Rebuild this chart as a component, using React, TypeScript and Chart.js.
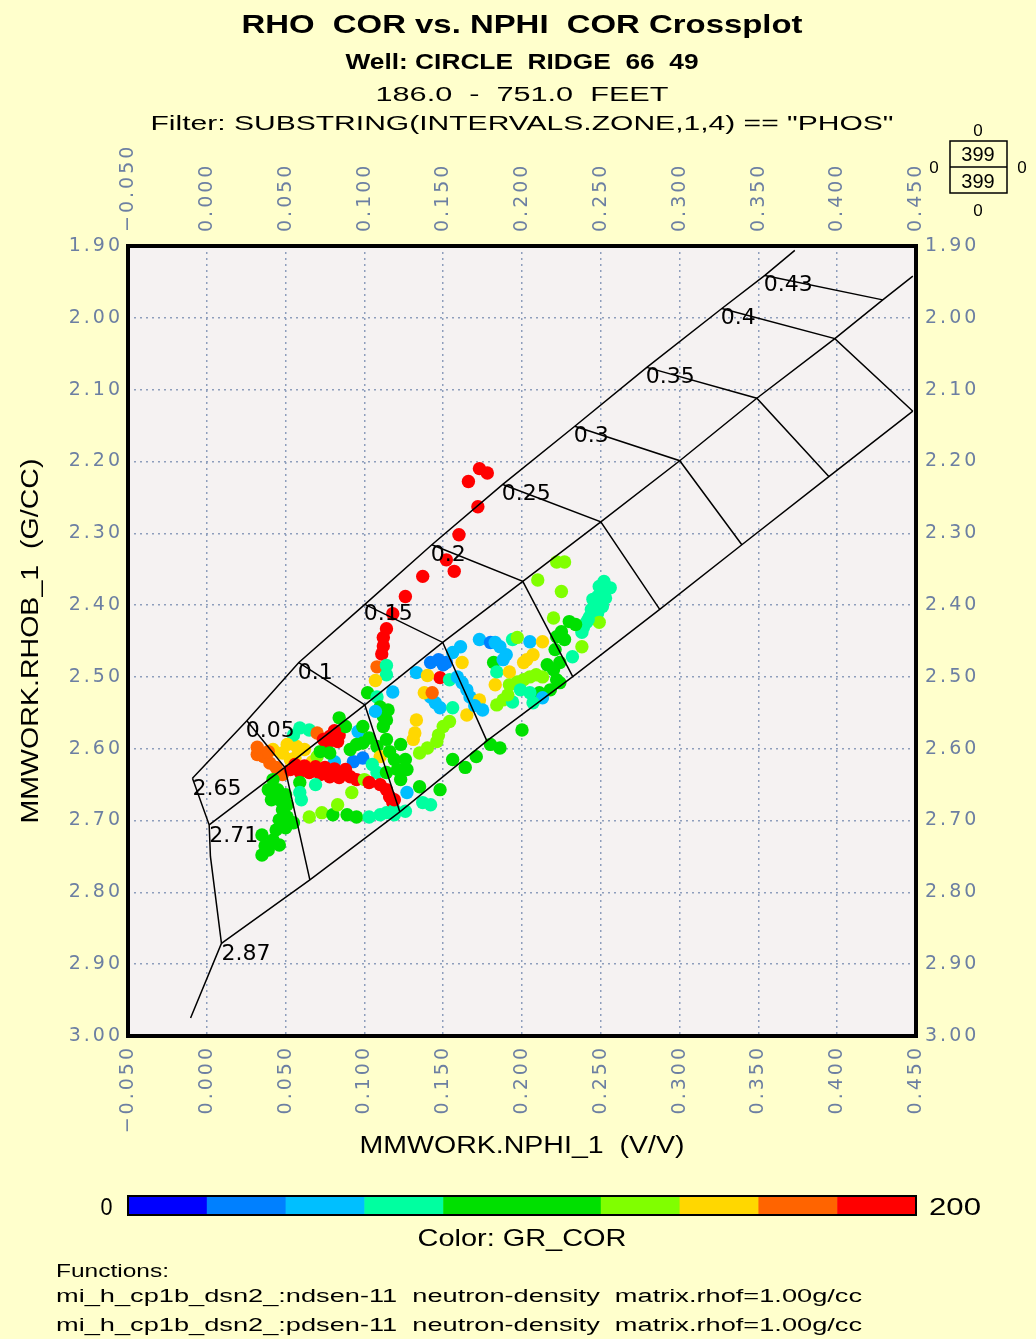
import React, { useEffect, useRef } from 'react';
import { Chart, registerables } from 'chart.js';

Chart.register(...registerables);

// ---------------- scatter data (NPHI v/v, RHOB g/cc, GR_COR API) ----------------
const nphi = [
  0.173, 0.178, 0.166, 0.172, 0.160, 0.152, 0.157, 0.137, 0.126, 0.118,
  0.114, 0.112, 0.112, 0.111, 0.148, 0.108, 0.114, 0.114, 0.107, 0.102,
  0.108, 0.118, 0.110, 0.115, 0.112, 0.107, 0.133, 0.140, 0.142, 0.147,
  0.152, 0.156, 0.161, 0.162, 0.154, 0.159, 0.162, 0.165, 0.167, 0.142,
  0.145, 0.148, 0.138, 0.143, 0.156, 0.165, 0.173, 0.183, 0.175, 0.182,
  0.184, 0.184, 0.188, 0.194, 0.192, 0.197, 0.201, 0.205, 0.209, 0.213,
  0.192, 0.201, 0.207, 0.220, 0.222, 0.211, 0.218, 0.224, 0.213, 0.205,
  0.207, 0.200, 0.180, 0.186, 0.150, 0.154, 0.147, 0.146, 0.140, 0.135,
  0.133, 0.132, 0.131, 0.156, 0.164, 0.171, 0.127, 0.135, 0.148, 0.127,
  0.173, 0.180, 0.183, 0.186, 0.190, 0.188, 0.194, 0.197, 0.205, 0.213,
  0.203, 0.222, 0.227, 0.210, 0.225, 0.249, 0.253, 0.248, 0.246, 0.244,
  0.243, 0.241, 0.239, 0.238, 0.253, 0.251, 0.248, 0.249, 0.230, 0.225,
  0.222, 0.220, 0.238, 0.232, 0.224, 0.036, 0.040, 0.044, 0.048, 0.042,
  0.048, 0.057, 0.056, 0.067, 0.076, 0.059, 0.065, 0.055, 0.070, 0.078,
  0.083, 0.076, 0.084, 0.084, 0.088, 0.053, 0.059, 0.065, 0.072, 0.078,
  0.084, 0.091, 0.095, 0.070, 0.081, 0.093, 0.099, 0.096, 0.099, 0.103,
  0.108, 0.072, 0.078, 0.110, 0.105, 0.108, 0.100, 0.103, 0.110, 0.114,
  0.116, 0.118, 0.119, 0.137, 0.142, 0.065, 0.073, 0.080, 0.089, 0.095,
  0.103, 0.110, 0.114, 0.083, 0.092, 0.069, 0.059, 0.042, 0.045, 0.046,
  0.048, 0.046, 0.044, 0.042, 0.039, 0.059, 0.060, 0.051, 0.055, 0.114,
  0.121, 0.123, 0.114, 0.116, 0.112, 0.114, 0.035, 0.032, 0.099, 0.037,
  0.091, 0.095, 0.119, 0.123, 0.126, 0.050, 0.051, 0.039, 0.041, 0.050,
  0.035, 0.046, 0.119, 0.126, 0.170, 0.150, 0.245, 0.242, 0.256, 0.252,
  0.216, 0.221, 0.227, 0.234, 0.199, 0.191, 0.039, 0.032, 0.051, 0.062,
  0.053, 0.056, 0.062, 0.069, 0.075, 0.081, 0.088, 0.081, 0.074, 0.119,
];
const rhob = [
  2.210, 2.216, 2.228, 2.263, 2.302, 2.337, 2.353, 2.360, 2.388, 2.412,
  2.433, 2.445, 2.457, 2.468, 2.501, 2.486, 2.484, 2.497, 2.505, 2.522,
  2.528, 2.521, 2.542, 2.546, 2.555, 2.548, 2.494, 2.498, 2.480, 2.476,
  2.480, 2.466, 2.458, 2.480, 2.504, 2.500, 2.508, 2.518, 2.528, 2.528,
  2.536, 2.543, 2.522, 2.522, 2.543, 2.553, 2.532, 2.511, 2.546, 2.480,
  2.493, 2.539, 2.532, 2.535, 2.511, 2.507, 2.504, 2.500, 2.497, 2.500,
  2.493, 2.480, 2.469, 2.490, 2.504, 2.522, 2.518, 2.508, 2.529, 2.522,
  2.536, 2.574, 2.594, 2.599, 2.569, 2.562, 2.581, 2.590, 2.599, 2.606,
  2.560, 2.578, 2.587, 2.615, 2.626, 2.611, 2.629, 2.653, 2.657, 2.661,
  2.448, 2.452, 2.452, 2.458, 2.469, 2.476, 2.448, 2.445, 2.451, 2.451,
  2.476, 2.340, 2.340, 2.365, 2.381, 2.374, 2.379, 2.388, 2.397, 2.406,
  2.416, 2.424, 2.431, 2.438, 2.390, 2.402, 2.411, 2.424, 2.423, 2.437,
  2.444, 2.418, 2.458, 2.472, 2.480, 2.611, 2.620, 2.626, 2.636, 2.601,
  2.606, 2.597, 2.613, 2.618, 2.629, 2.571, 2.574, 2.581, 2.578, 2.583,
  2.590, 2.594, 2.581, 2.557, 2.569, 2.629, 2.632, 2.633, 2.636, 2.639,
  2.640, 2.639, 2.643, 2.611, 2.618, 2.618, 2.613, 2.576, 2.569, 2.585,
  2.597, 2.604, 2.606, 2.611, 2.622, 2.633, 2.643, 2.647, 2.650, 2.657,
  2.667, 2.675, 2.685, 2.675, 2.678, 2.695, 2.689, 2.692, 2.692, 2.695,
  2.695, 2.692, 2.689, 2.678, 2.661, 2.650, 2.647, 2.643, 2.657, 2.671,
  2.685, 2.699, 2.713, 2.727, 2.741, 2.661, 2.671, 2.695, 2.703, 2.633,
  2.629, 2.643, 2.587, 2.604, 2.569, 2.560, 2.748, 2.608, 2.592, 2.735,
  2.601, 2.594, 2.615, 2.594, 2.615, 2.664, 2.678, 2.657, 2.671, 2.710,
  2.720, 2.734, 2.692, 2.687, 2.540, 2.483, 2.392, 2.420, 2.376, 2.367,
  2.483, 2.462, 2.448, 2.427, 2.518, 2.525, 2.604, 2.598, 2.594, 2.601,
  2.615, 2.622, 2.624, 2.625, 2.626, 2.628, 2.629, 2.575, 2.587, 2.671,
];
const grCor = [
  190, 190, 190, 190, 190, 190, 190, 190, 190, 190,
  190, 190, 190, 190, 190, 170, 70, 70, 150, 100,
  70, 50, 100, 100, 100, 50, 50, 150, 30, 30,
  30, 50, 50, 150, 70, 50, 50, 50, 50, 50,
  50, 50, 150, 170, 70, 150, 150, 150, 50, 100,
  70, 130, 130, 70, 130, 130, 130, 130, 130, 130,
  150, 150, 150, 100, 100, 100, 100, 100, 50, 70,
  70, 100, 100, 100, 130, 130, 130, 130, 130, 130,
  150, 150, 150, 100, 100, 100, 100, 100, 100, 50,
  50, 30, 50, 50, 50, 50, 70, 130, 50, 150,
  150, 130, 130, 130, 130, 70, 70, 70, 70, 70,
  70, 70, 70, 70, 70, 70, 70, 130, 100, 100,
  100, 130, 130, 70, 100, 170, 170, 170, 170, 150,
  150, 150, 150, 150, 150, 70, 70, 70, 170, 190,
  190, 190, 190, 100, 100, 190, 190, 190, 190, 190,
  190, 190, 190, 130, 50, 30, 30, 50, 100, 100,
  100, 100, 100, 150, 70, 70, 130, 190, 190, 190,
  190, 190, 70, 70, 70, 130, 130, 100, 100, 100,
  70, 70, 70, 130, 130, 70, 100, 100, 100, 100,
  100, 100, 100, 100, 100, 70, 70, 100, 100, 100,
  100, 100, 100, 100, 100, 100, 100, 170, 100, 100,
  100, 100, 100, 100, 100, 100, 100, 100, 100, 100,
  100, 100, 70, 70, 50, 30, 70, 70, 70, 70,
  100, 100, 100, 100, 70, 130, 170, 170, 150, 150,
  150, 190, 190, 190, 190, 190, 190, 190, 190, 190,
];

// GR colour scale (0..200 in 10 bins)
const grMin = 0;
const grMax = 200;
const grBinColors = [
  '#0000FF', '#0080FF', '#00BFFF', '#00FFA0', '#00E000',
  '#00E000', '#80FF00', '#FFD700', '#FF6400', '#FF0000',
];

// ---------------- neutron-density chart overlay ----------------
// index 0 = matrix point, then porosity 0.05 ... 0.43, last = line end
const sandNphi = [-0.0091, 0.0254, 0.0584, 0.1003, 0.1428, 0.1878, 0.2335, 0.2792, 0.3268, 0.3541, 0.3731];
const sandRhob = [2.641, 2.561, 2.480, 2.399, 2.316, 2.232, 2.151, 2.069, 1.987, 1.941, 1.906];
const limeNphi = [0.0015, 0.0495, 0.1003, 0.1497, 0.2005, 0.2500, 0.3001, 0.3490, 0.3985, 0.4289, 0.4480];
const limeRhob = [2.706, 2.626, 2.539, 2.452, 2.367, 2.284, 2.199, 2.112, 2.029, 1.975, 1.942];
const doloNphi = [0.0093, 0.0654, 0.1225, 0.1777, 0.2322, 0.2874, 0.3395, 0.3947, 0.4480];
const doloRhob = [2.871, 2.7825, 2.688, 2.589, 2.4997, 2.406, 2.316, 2.221, 2.130];
const matrixNphi = [-0.0091, 0.0015, 0.0023, 0.0093, -0.0103];
const matrixRhob = [2.641, 2.706, 2.750, 2.871, 2.975];
const porosityLabels = ['0.05', '0.1', '0.15', '0.2', '0.25', '0.3', '0.35', '0.4', '0.43'];
const matrixLabels = ['2.65', '2.71', '2.87'];

// ---------------- text ----------------
const titleLines = [
  'RHO  COR vs. NPHI  COR Crossplot',
  'Well: CIRCLE  RIDGE  66  49',
  '186.0  -  751.0  FEET',
  'Filter: SUBSTRING(INTERVALS.ZONE,1,4) == "PHOS"',
];
const xTitle = 'MMWORK.NPHI_1  (V/V)';
const yTitle = 'MMWORK.RHOB_1  (G/CC)';
const colorTitle = 'Color: GR_COR';
const functionLines = [
  'Functions:',
  'mi_h_cp1b_dsn2_:ndsen-11  neutron-density  matrix.rhof=1.00g/cc',
  'mi_h_cp1b_dsn2_:pdsen-11  neutron-density  matrix.rhof=1.00g/cc',
];
const countTotal = '399';
const countShown = '399';

const pageBg = '#FFFFCC';
const plotBg = '#F5F2F2';
const gridColor = '#8E9EBC';
const tickColor = '#6C7FA2';
const FONT = 'Liberation Sans';

function grColor(v: number) {
  const idx = Math.max(0, Math.min(9, Math.floor(((v - grMin) / (grMax - grMin)) * 10)));
  return grBinColors[idx];
}

function fmtX(v: number) {
  if (Math.abs(v) < 1e-9) return '0.000';
  return v.toFixed(3).replace('-', '\u2212');
}
function fmtY(v: number) {
  return v.toFixed(2);
}

function fitText(
  ctx: CanvasRenderingContext2D,
  text: string,
  x: number,
  y: number,
  font: string,
  width: number,
  align: CanvasTextAlign = 'center',
  rotate = 0
) {
  ctx.save();
  ctx.font = font;
  (ctx as any).letterSpacing = '0px';
  const m = ctx.measureText(text).width;
  const sx = width / m;
  ctx.translate(x, y);
  if (rotate) ctx.rotate(rotate);
  ctx.scale(sx, 1);
  ctx.textAlign = align;
  ctx.textBaseline = 'alphabetic';
  ctx.fillStyle = '#000';
  ctx.fillText(text, 0, 0);
  ctx.restore();
}

const pts = (xs: number[], ys: number[]) => xs.map((x, i) => ({ x, y: ys[i] }));

function lineDs(data: { x: number; y: number }[]) {
  return {
    type: 'scatter' as const,
    data,
    showLine: true,
    borderColor: '#000',
    borderWidth: 1.5,
    pointRadius: 0,
    fill: false,
    tension: 0,
    order: 0,
  };
}

const overlayPlugin = {
  id: 'overlay',
  beforeDraw(chart: any) {
    const { ctx, chartArea: a, width, height } = chart;
    ctx.save();
    ctx.fillStyle = pageBg;
    ctx.fillRect(0, 0, width, height);
    ctx.fillStyle = plotBg;
    ctx.fillRect(a.left, a.top, a.right - a.left, a.bottom - a.top);
    ctx.restore();
    (ctx as any).letterSpacing = '3px';
  },
  afterDatasetsDraw(chart: any) {
    const { ctx, scales } = chart;
    const xs = scales.x;
    const ys = scales.y;
    ctx.save();
    (ctx as any).letterSpacing = '0px';
    ctx.font = `22px "DejaVu Sans"`;
    ctx.fillStyle = '#000';
    ctx.textAlign = 'left';
    ctx.textBaseline = 'alphabetic';
    porosityLabels.forEach((lab, i) => {
      const px = xs.getPixelForValue(sandNphi[i + 1]);
      const py = ys.getPixelForValue(sandRhob[i + 1]);
      ctx.fillText(lab, px - 1, py + 16);
    });
    const mx = [sandNphi[0], limeNphi[0], doloNphi[0]];
    const my = [sandRhob[0], limeRhob[0], doloRhob[0]];
    matrixLabels.forEach((lab, i) => {
      const px = xs.getPixelForValue(mx[i]);
      const py = ys.getPixelForValue(my[i]);
      ctx.fillText(lab, px, py + 17);
    });
    ctx.restore();
  },
  afterDraw(chart: any) {
    const { ctx, chartArea: a } = chart;
    ctx.save();
    (ctx as any).letterSpacing = '0px';
    // plot frame
    ctx.strokeStyle = '#000';
    ctx.lineWidth = 4;
    ctx.strokeRect(a.left, a.top, a.right - a.left, a.bottom - a.top);

    const cx = (a.left + a.right) / 2;
    // titles
    fitText(ctx, titleLines[0], cx, 33, `bold 25px "${FONT}"`, 561);
    fitText(ctx, titleLines[1], cx, 69, `bold 22px "${FONT}"`, 353);
    fitText(ctx, titleLines[2], cx, 101, `20px "${FONT}"`, 293);
    fitText(ctx, titleLines[3], cx, 130, `21px "${FONT}"`, 743);

    // axis titles
    fitText(ctx, xTitle, cx, 1153, `23px "${FONT}"`, 325);
    fitText(ctx, yTitle, 38, (a.top + a.bottom) / 2, `23px "${FONT}"`, 365, 'center', -Math.PI / 2);

    // colour bar
    const barTop = 1196;
    const barH = 19;
    const segW = (a.right - a.left) / grBinColors.length;
    grBinColors.forEach((c, i) => {
      ctx.fillStyle = c;
      ctx.fillRect(a.left + i * segW, barTop, segW + 0.5, barH);
    });
    ctx.strokeStyle = '#000';
    ctx.lineWidth = 2;
    ctx.strokeRect(a.left, barTop, a.right - a.left, barH);
    fitText(ctx, String(grMin), 106.5, 1215, `24px "${FONT}"`, 12);
    fitText(ctx, String(grMax), 955, 1215, `24px "${FONT}"`, 52);
    fitText(ctx, colorTitle, cx, 1246, `24px "${FONT}"`, 209);

    // functions
    fitText(ctx, functionLines[0], 56, 1277, `18px "${FONT}"`, 113, 'left');
    fitText(ctx, functionLines[1], 56, 1302, `18px "${FONT}"`, 806, 'left');
    fitText(ctx, functionLines[2], 56, 1331, `18px "${FONT}"`, 806, 'left');

    // count box (top right)
    ctx.strokeStyle = '#000';
    ctx.lineWidth = 1.5;
    ctx.strokeRect(950, 141, 57, 52);
    ctx.beginPath();
    ctx.moveTo(950, 167);
    ctx.lineTo(1007, 167);
    ctx.stroke();
    ctx.fillStyle = '#000';
    ctx.textAlign = 'center';
    ctx.textBaseline = 'alphabetic';
    ctx.font = `17px "${FONT}"`;
    ctx.fillText('0', 978, 136);
    ctx.fillText('0', 978, 216);
    ctx.fillText('0', 934, 173);
    ctx.fillText('0', 1022, 173);
    ctx.font = `20px "${FONT}"`;
    ctx.fillText(countTotal, 978, 161);
    ctx.fillText(countShown, 978, 188);
    ctx.restore();
  },
};

export default function App() {
  const ref = useRef<HTMLCanvasElement>(null);
  useEffect(() => {
    document.body.style.margin = '0';
    document.body.style.background = pageBg;
    const canvas = ref.current!;

    const ties: any[] = [];
    for (let i = 1; i <= 8; i++) {
      ties.push(
        lineDs([
          { x: sandNphi[i], y: sandRhob[i] },
          { x: limeNphi[i], y: limeRhob[i] },
          { x: doloNphi[i], y: doloRhob[i] },
        ])
      );
    }
    ties.push(
      lineDs([
        { x: sandNphi[9], y: sandRhob[9] },
        { x: limeNphi[9], y: limeRhob[9] },
      ])
    );

    const scatterData = pts(nphi, rhob);

    const tickFont = { family: 'DejaVu Sans', size: 19 };
    const xCommon = {
      type: 'linear' as const,
      min: -0.05,
      max: 0.45,
      ticks: {
        stepSize: 0.05,
        maxTicksLimit: 30,
        autoSkip: false,
        minRotation: 90,
        maxRotation: 90,
        color: tickColor,
        font: tickFont,
        callback: (v: any) => fmtX(Number(v)),
      },
      border: { display: false, dash: [2, 4] },
    };
    const yCommon = {
      type: 'linear' as const,
      min: 1.9,
      max: 3.0,
      reverse: true,
      ticks: {
        stepSize: 0.1,
        maxTicksLimit: 30,
        autoSkip: false,
        color: tickColor,
        font: tickFont,
        callback: (v: any) => fmtY(Number(v)),
      },
      border: { display: false, dash: [2, 4] },
    };

    const chart = new Chart(canvas, {
      type: 'scatter',
      data: {
        datasets: [
          lineDs(pts(sandNphi, sandRhob)),
          lineDs(pts(limeNphi, limeRhob)),
          lineDs(pts(doloNphi, doloRhob)),
          lineDs(pts(matrixNphi, matrixRhob)),
          ...ties,
          {
            type: 'scatter',
            data: scatterData,
            pointRadius: 6.7,
            pointBorderWidth: 0,
            pointBackgroundColor: (c: any) => grColor(grCor[c.dataIndex]),
            pointBorderColor: (c: any) => grColor(grCor[c.dataIndex]),
            showLine: false,
            order: 1,
          } as any,
        ],
      },
      options: {
        responsive: false,
        animation: false,
        devicePixelRatio: 1,
        events: [],
        layout: { padding: { left: 0, right: 0, top: 0, bottom: 175 } },
        plugins: {
          legend: { display: false },
          tooltip: { enabled: false },
          title: { display: false },
        },
        scales: {
          x: {
            ...xCommon,
            position: 'bottom',
            afterFit: (s: any) => {
              s.height = 128;
            },
            ticks: { ...xCommon.ticks, padding: 9 },
            grid: { color: gridColor, lineWidth: 1.5, drawTicks: false },
          },
          x2: {
            ...xCommon,
            axis: 'x',
            position: 'top',
            afterFit: (s: any) => {
              s.height = 246;
            },
            ticks: { ...xCommon.ticks, padding: 14, labelOffset: 23 },
            grid: { display: false, drawTicks: false },
          },
          y: {
            ...yCommon,
            position: 'left',
            afterFit: (s: any) => {
              s.width = 128;
            },
            ticks: { ...yCommon.ticks, padding: 5 },
            grid: { color: gridColor, lineWidth: 1.5, drawTicks: false },
          },
          y2: {
            ...yCommon,
            axis: 'y',
            position: 'right',
            afterFit: (s: any) => {
              s.width = 120;
            },
            ticks: { ...yCommon.ticks, padding: 9 },
            grid: { display: false, drawTicks: false },
          },
        } as any,
      },
      plugins: [overlayPlugin],
    } as any);
    return () => chart.destroy();
  }, []);

  return (
    <div style={{ position: 'absolute', left: 0, top: 0, width: 1036, height: 1339, background: pageBg }}>
      <canvas ref={ref} width={1036} height={1339} style={{ display: 'block', width: 1036, height: 1339 }} />
    </div>
  );
}
